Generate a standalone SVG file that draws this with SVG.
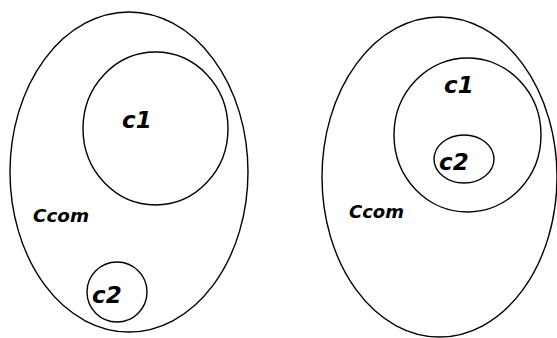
<svg xmlns="http://www.w3.org/2000/svg" width="557" height="338" viewBox="0 0 557 338">
<style>
.s{fill:none;stroke:#000;stroke-width:1.4}
.t{font-family:"DejaVu Sans",sans-serif;font-weight:bold;font-style:italic;fill:#000}
</style>
<rect width="557" height="338" fill="#fff"/>
<g id="left">
<g id="ccom1"><ellipse class="s" cx="129" cy="172" rx="119" ry="160"/><text class="t" x="33" y="222" font-size="18" textLength="56" lengthAdjust="spacingAndGlyphs">Ccom</text></g>
<g id="c1a"><ellipse class="s" cx="155.5" cy="128.5" rx="72.5" ry="76.5"/><text class="t" x="122" y="128" font-size="23">c1</text></g>
<g id="c2a"><ellipse class="s" cx="117" cy="292" rx="30" ry="30"/><text class="t" x="92" y="303" font-size="23">c2</text></g>
</g>
<g id="right">
<g id="ccom2"><ellipse class="s" cx="439.5" cy="177" rx="117.5" ry="160"/><text class="t" x="349" y="218" font-size="18" textLength="55" lengthAdjust="spacingAndGlyphs">Ccom</text></g>
<g id="c1b"><ellipse class="s" cx="467.5" cy="135" rx="73.5" ry="77"/><text class="t" x="444" y="93" font-size="23">c1</text></g>
<g id="c2b"><ellipse class="s" cx="464" cy="159" rx="30" ry="24"/><text class="t" x="439" y="170" font-size="23">c2</text></g>
</g>
<g id="connectors"/>
</svg>
